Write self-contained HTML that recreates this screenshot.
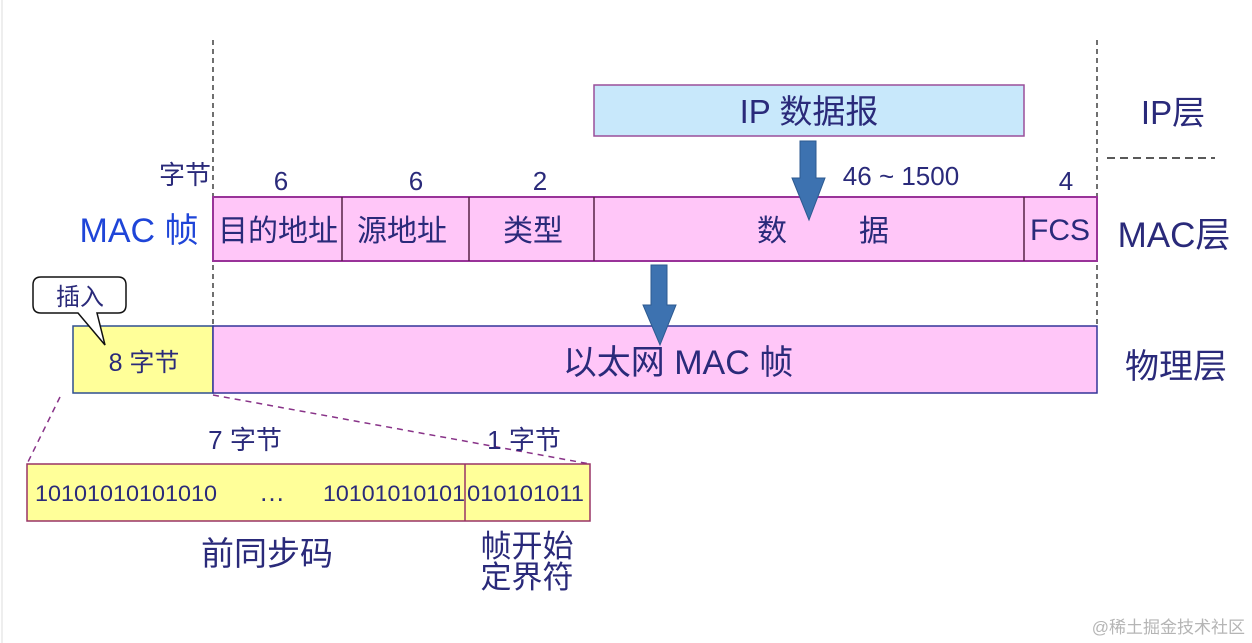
<!DOCTYPE html>
<html><head><meta charset="utf-8"><style>
html,body{margin:0;padding:0;background:#fff;}
svg{display:block;}
text{font-family:"Liberation Sans","Noto Sans CJK SC",sans-serif;fill:#2a2a7a;}
</style></head><body>
<svg width="1252" height="643" viewBox="0 0 1252 643" xmlns="http://www.w3.org/2000/svg">
<rect x="0" y="0" width="1252" height="643" fill="#fff"/>
<line x1="2" y1="0" x2="2" y2="643" stroke="#eee" stroke-width="2"/>
<line x1="213" y1="40" x2="213" y2="326" stroke="#222" stroke-width="1.3" stroke-dasharray="5,4"/>
<line x1="1097" y1="40" x2="1097" y2="326" stroke="#222" stroke-width="1.3" stroke-dasharray="5,4"/>
<line x1="1107" y1="158" x2="1215" y2="158" stroke="#222" stroke-width="1.5" stroke-dasharray="8,5"/>
<rect x="594" y="85" width="430" height="51" fill="#c8e8fb" stroke="#9a4f9a" stroke-width="1.5"/>
<text x="809" y="123" font-size="33" text-anchor="middle">IP 数据报</text>
<text x="1173" y="124" font-size="33" text-anchor="middle">IP层</text>
<rect x="213" y="197" width="884" height="64" fill="#ffc6f8" stroke="#993399" stroke-width="2"/>
<g stroke="#552244" stroke-width="1.5">
<line x1="342" y1="197" x2="342" y2="261"/><line x1="469" y1="197" x2="469" y2="261"/>
<line x1="594" y1="197" x2="594" y2="261"/><line x1="1024" y1="197" x2="1024" y2="261"/></g>
<text x="185" y="184" font-size="26" text-anchor="middle">字节</text>
<text x="281" y="190" font-size="26" text-anchor="middle">6</text>
<text x="416" y="190" font-size="26" text-anchor="middle">6</text>
<text x="540" y="190" font-size="26" text-anchor="middle">2</text>
<text x="901" y="185" font-size="26" text-anchor="middle">46 ~ 1500</text>
<text x="1066" y="190" font-size="26" text-anchor="middle">4</text>
<text x="139" y="242" font-size="34" text-anchor="middle" style="fill:#1f45d8">MAC 帧</text>
<text x="278" y="241" font-size="30" text-anchor="middle">目的地址</text>
<text x="402" y="241" font-size="30" text-anchor="middle">源地址</text>
<text x="533" y="241" font-size="30" text-anchor="middle">类型</text>
<text x="772" y="241" font-size="30" text-anchor="middle">数</text>
<text x="874" y="241" font-size="30" text-anchor="middle">据</text>
<text x="1060" y="240" font-size="30" text-anchor="middle">FCS</text>
<text x="1174" y="247" font-size="35" text-anchor="middle">MAC层</text>
<rect x="73" y="326" width="140" height="67" fill="#ffff99" stroke="#2f4f8f" stroke-width="1.5"/>
<rect x="213" y="326" width="884" height="67" fill="#ffc6f8" stroke="#333399" stroke-width="1.5"/>
<text x="144" y="371" font-size="25" text-anchor="middle">8 字节</text>
<text x="678" y="374" font-size="34" text-anchor="middle">以太网 MAC 帧</text>
<text x="1176" y="378" font-size="34" text-anchor="middle">物理层</text>
<path d="M800,141 L816,141 L816,178 L825,178 L809,220 L792,178 L800,178 Z" fill="#3d72b0" stroke="#2d5a90" stroke-width="1"/>
<path d="M651,265 L667,265 L667,305 L676,305 L660,345 L643,305 L651,305 Z" fill="#3d72b0" stroke="#2d5a90" stroke-width="1"/>
<path d="M41,277 L118,277 Q126,277 126,285 L126,305 Q126,313 118,313 L97,313 L105,345 L78,313 L41,313 Q33,313 33,305 L33,285 Q33,277 41,277 Z" fill="#fff" stroke="#111" stroke-width="1.5"/>
<text x="80" y="305" font-size="24" text-anchor="middle">插入</text>
<line x1="60" y1="397" x2="27" y2="464" stroke="#883388" stroke-width="1.5" stroke-dasharray="6,5"/>
<line x1="213" y1="395" x2="590" y2="464" stroke="#883388" stroke-width="1.5" stroke-dasharray="6,5"/>
<rect x="27" y="464" width="563" height="57" fill="#ffff99" stroke="#993366" stroke-width="1.5"/>
<line x1="465" y1="464" x2="465" y2="521" stroke="#993366" stroke-width="1.5"/>
<text x="245" y="449" font-size="26" text-anchor="middle">7 字节</text>
<text x="524" y="449" font-size="26" text-anchor="middle">1 字节</text>
<text x="35" y="501" font-size="22" textLength="182" lengthAdjust="spacingAndGlyphs">10101010101010</text>
<text x="272" y="501" font-size="26" text-anchor="middle">…</text>
<text x="323" y="501" font-size="22" textLength="142" lengthAdjust="spacingAndGlyphs">10101010101</text>
<text x="467" y="501" font-size="22" textLength="117" lengthAdjust="spacingAndGlyphs">010101011</text>
<text x="267" y="565" font-size="33" text-anchor="middle">前同步码</text>
<text x="527" y="557" font-size="31" text-anchor="middle">帧开始</text>
<text x="527" y="588" font-size="31" text-anchor="middle">定界符</text>
<text x="1245" y="633" font-size="17" text-anchor="end" style="fill:#b5b5b5">@稀土掘金技术社区</text>
</svg>
</body></html>
